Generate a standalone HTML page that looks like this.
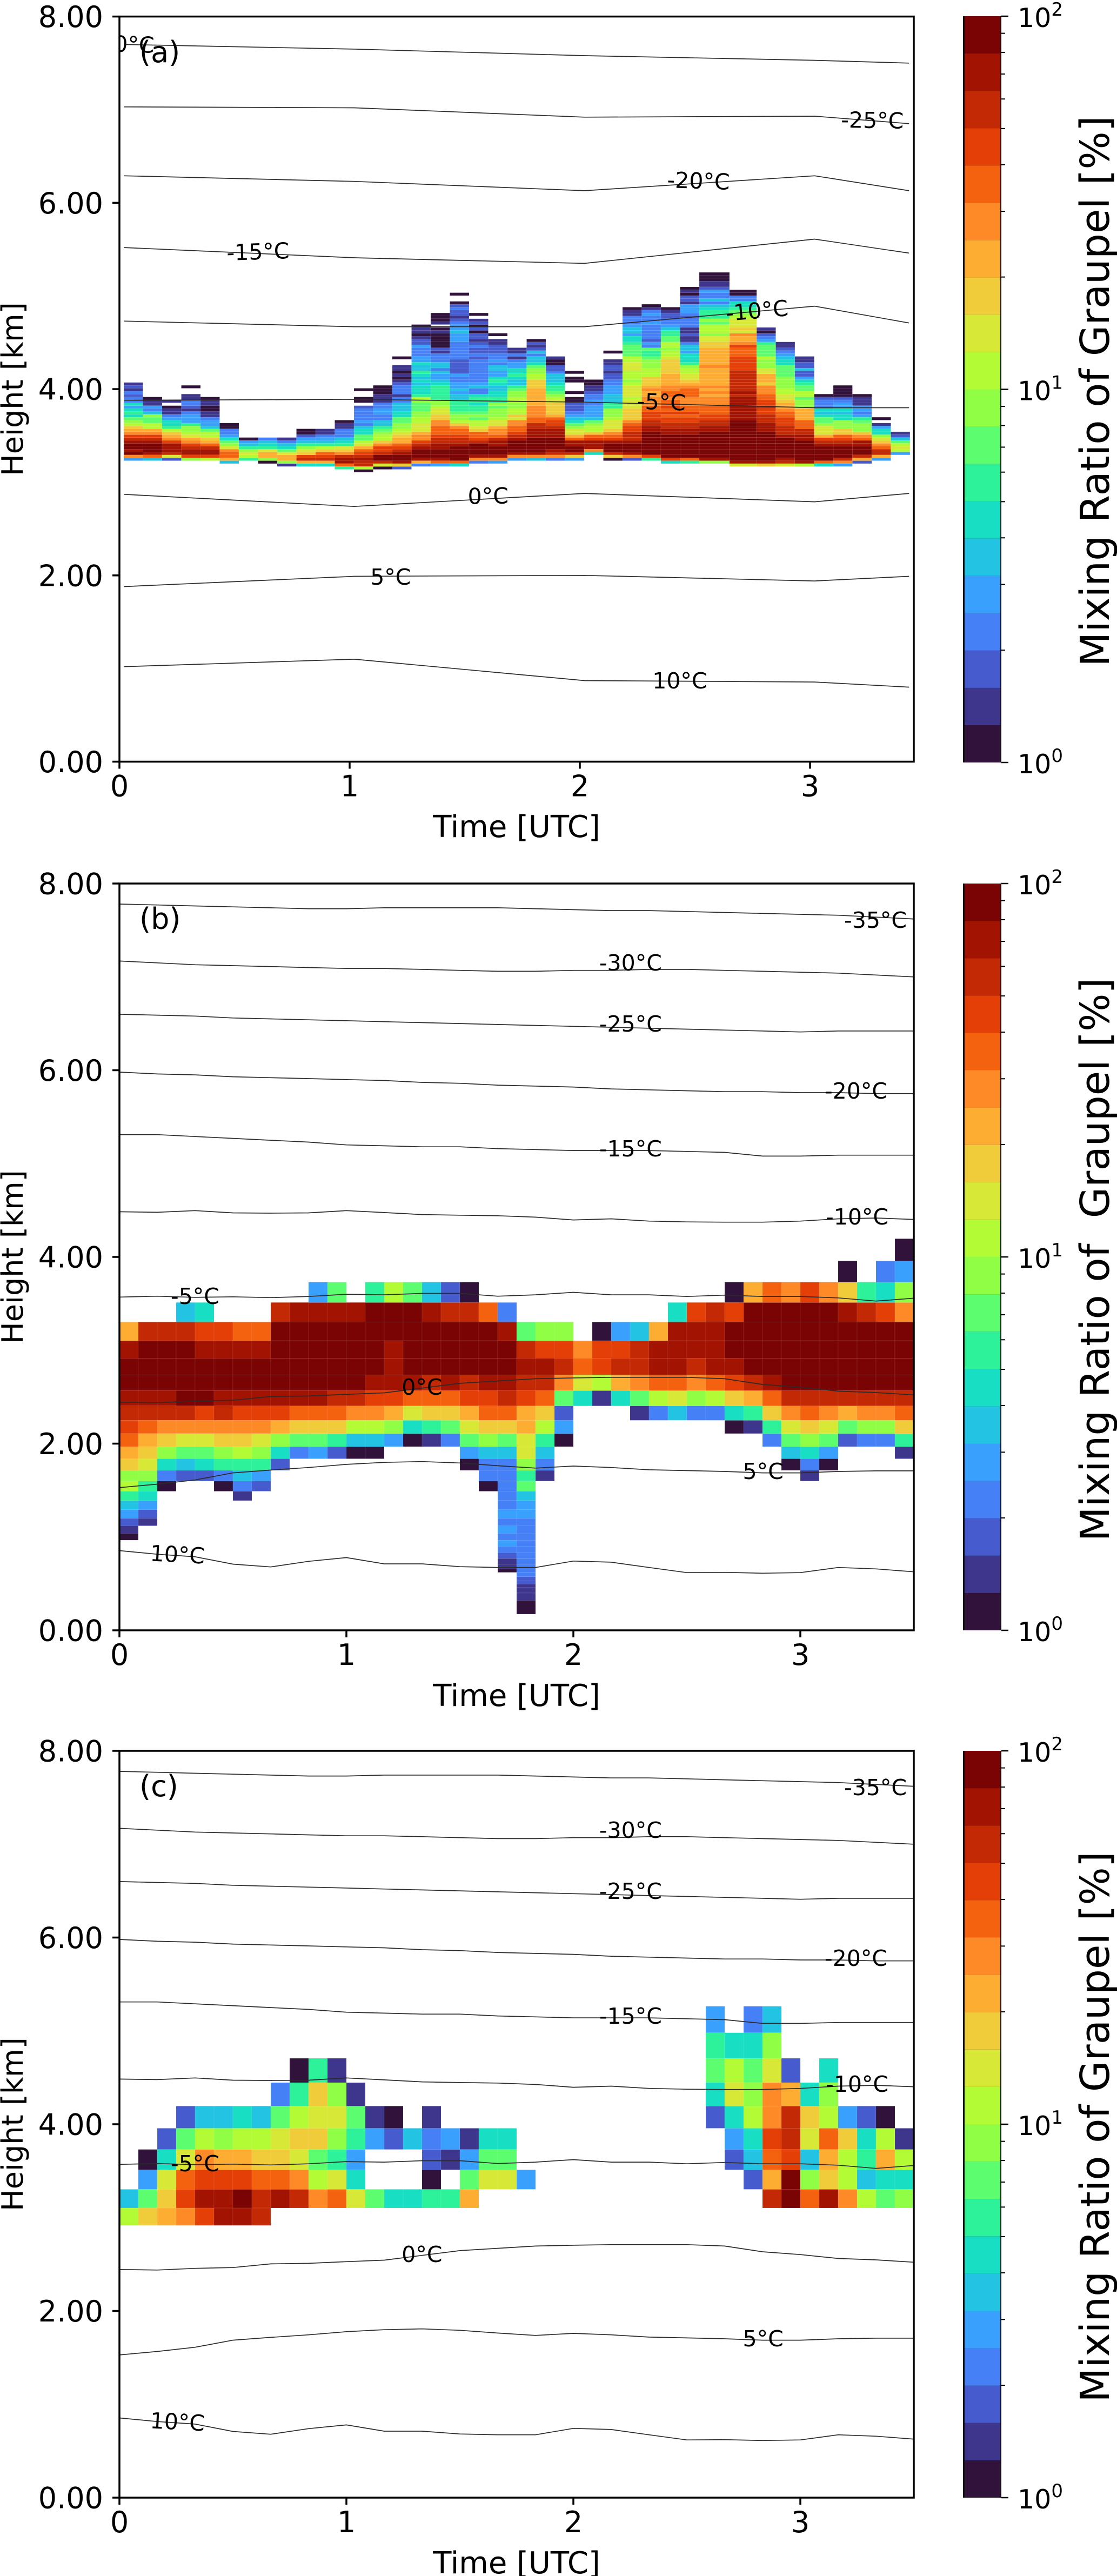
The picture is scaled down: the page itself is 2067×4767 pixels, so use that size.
<!DOCTYPE html>
<html lang="en">
<head>
<meta charset="utf-8">
<title>Mixing Ratio of Graupel</title>
<style>
html,body{margin:0;padding:0;background:#fff;}
svg{display:block;}
text{font-family:"DejaVu Sans","Liberation Sans",sans-serif;fill:#000;}
.tick{font-size:54px;}
.axis-title{font-size:54px;}
.x-title{font-size:56px;}
.panel-letter{font-size:54px;}
.iso-label{font-size:41px;}
.cb-title{font-size:74px;white-space:pre;}
.cb-tick{font-size:49px;}
</style>
</head>
<body>
<svg id="fig" xmlns="http://www.w3.org/2000/svg" width="2067" height="4767" viewBox="0 0 2067 4767">
  <rect x="0" y="0" width="2067" height="4767" fill="#fff"/>
  <defs>
    <clipPath id="clip-a"><rect x="221" y="30.6" width="1470" height="1379"/></clipPath>
    <clipPath id="clip-b"><rect x="221" y="1635" width="1470" height="1382"/></clipPath>
    <clipPath id="clip-c"><rect x="221" y="3240" width="1470" height="1382"/></clipPath>
  </defs>
  <g id="panel-a"></g>
  <g id="panel-b"></g>
  <g id="panel-c"></g>

  <text class="panel-letter" x="258" y="115">(a)</text>
  <text class="panel-letter" x="258" y="1719">(b)</text>
  <text class="panel-letter" x="258" y="3324">(c)</text>

  <text class="axis-title" text-anchor="middle" transform="translate(42 720) rotate(-90)">Height [km]</text>
  <text class="axis-title" text-anchor="middle" transform="translate(42 2326) rotate(-90)">Height [km]</text>
  <text class="axis-title" text-anchor="middle" transform="translate(42 3931) rotate(-90)">Height [km]</text>

  <text class="x-title" text-anchor="middle" x="956" y="1549">Time [UTC]</text>
  <text class="x-title" text-anchor="middle" x="956" y="3157">Time [UTC]</text>
  <text class="x-title" text-anchor="middle" x="956" y="4762">Time [UTC]</text>

  <text class="cb-title" text-anchor="middle" transform="translate(2052 724) rotate(-90)">Mixing Ratio of Graupel [%]</text>
  <text class="cb-title" text-anchor="middle" transform="translate(2052 2331) rotate(-90)">Mixing Ratio of  Graupel [%]</text>
  <text class="cb-title" text-anchor="middle" transform="translate(2052 3936) rotate(-90)">Mixing Ratio of Graupel [%]</text>
</svg>

<script>
// ---- colour levels (10*log10 of mixing ratio in %, 20 bins from 10^0 to 10^2) ----
const levelColors = ["#30123b","#3e358c","#465bce","#4680f6","#3aa0fe","#23c4e3","#18dec3","#2ef29a","#5cfd6e","#90fe44","#b3fb34","#d8e837","#f0cc3a","#fead33","#fe8a27","#f4610f","#e33f07","#c32904","#a21302","#7a0403"];

// ---- shared axis labels ----
const heightTicks = [0,2,4,6,8];
const heightTickLabels = ["0.00","2.00","4.00","6.00","8.00"];
const timeTicks = [0,1,2,3];
const timeTickLabels = ["0","1","2","3"];
const colorbarMajor = [0,1,2];
const colorbarMinorFactors = [2,3,4,5,6,7,8,9];

// ---- panel (a): time cell edges [h], fine height grid, one array per time column ----
const timeEdgesA = [0.0188,0.1021,0.1854,0.2688,0.3521,0.4354,0.5188,0.6021,0.6854,0.7688,0.8521,0.9354,1.0188,1.1021,1.1854,1.2688,1.3521,1.4354,1.5188,1.6021,1.6854,1.7688,1.8521,1.9354,2.0188,2.1021,2.1854,2.2688,2.3521,2.4354,2.5188,2.650,2.768,2.851,2.934,3.018,3.101,3.184,3.268,3.351,3.434];
const rowBaseA = 3.107;
const rowStepA = 0.0311;
const baseRowsA = [4,4,4,4,4,3,4,3,2,2,2,1,0,1,1,2,2,2,3,3,4,4,4,4,6,4,4,4,3,3,3,2,2,2,2,2,2,3,4,6];
const graupelA = [
[4,14,19,18,19,19,18,17,16,14,13,12,10,9,8,6,7,6,4,6,3,3,2,3,1,2,1],
[5,15,18,19,19,19,18,17,16,14,13,10,10,8,8,9,5,3,4,1,1,0],
[2,11,17,18,18,18,16,14,13,12,10,7,6,6,4,3,1,1,0,-1,1],
[9,16,18,18,17,16,14,13,11,10,9,9,7,4,4,4,3,1,2,3,3,1,1,-1,-1,0],
[10,16,18,18,17,15,13,12,10,10,8,5,4,4,3,1,1,0,0,1,1,0],
[5,13,15,15,14,11,9,8,6,4,3,3,0,0],
[7,10,11,9,7,5,4,0],
[0,9,13,13,11,7,6,5,3],
[1,9,13,13,11,8,6,5,3,1],
[6,13,17,16,12,11,9,7,5,4,2,0,0],
[6,13,17,16,15,12,10,7,5,4,3,1,1],
[7,15,18,18,17,14,12,11,7,6,5,3,3,3,1,1,0],
[0,10,17,17,18,17,16,15,13,11,10,8,8,6,6,5,3,4,3,3,3,3,2,-1,0,0,-1,-1,0],
[0,11,17,19,19,17,16,16,14,12,10,10,9,8,7,5,5,3,3,4,4,3,3,1,1,1,0,0,0],
[2,12,18,19,19,18,17,16,15,13,13,12,11,10,9,9,8,8,6,6,5,5,5,3,3,1,3,3,3,2,1,0,1,0,1,1,-1,-1,0],
[3,13,18,19,19,19,18,17,16,14,14,13,11,11,11,10,10,9,9,8,8,8,9,10,7,6,6,6,5,6,5,6,7,5,5,6,4,4,3,3,3,4,2,2,1,0,1,1,0],
[4,15,18,19,19,19,18,18,17,17,16,15,15,15,14,14,12,12,11,11,10,9,9,7,7,7,7,7,6,5,4,4,5,3,5,5,3,3,3,1,2,0,0,0,0,0,1,0,-1,1,0,0,0],
[6,15,19,19,19,19,19,18,17,17,16,15,15,14,12,10,9,9,8,7,7,7,7,5,5,4,5,4,4,3,3,4,2,2,2,2,2,3,3,3,3,3,3,4,4,4,5,4,4,3,2,1,2,2,3,2,0,-1,-1,0],
[3,14,18,19,19,19,19,17,16,15,15,12,11,10,10,8,9,8,7,7,6,7,7,6,3,3,5,4,3,3,3,3,3,3,3,3,2,3,2,2,3,2,1,2,2,0,2,0,2,1,-1,0],
[4,14,18,19,19,19,18,18,17,15,14,14,13,11,11,10,9,9,9,8,9,7,7,6,6,5,5,6,7,6,4,4,5,5,3,4,3,3,2,2,2,1,1,-1,0],
[4,14,18,19,19,19,19,18,17,16,15,15,14,14,11,12,10,10,9,9,10,10,9,9,8,7,5,5,6,7,6,6,4,4,3,1,3,1,1],
[5,14,18,19,19,19,19,19,18,18,18,17,17,15,15,14,14,14,14,13,13,13,13,13,13,12,12,12,10,10,9,9,8,6,5,5,3,5,2,1,2,0],
[3,14,17,18,19,19,19,19,18,18,18,17,16,16,15,13,12,12,12,12,11,10,9,8,7,7,6,5,5,5,3,2,2,0,0,1],
[4,12,17,19,19,18,18,15,13,11,11,9,8,6,5,4,3,2,2,2,0,0,-1,0,-1,-1,-1,0,0,-1,0],
[6,14,18,18,18,16,15,12,10,10,9,8,5,4,4,4,4,3,4,3,3,2,1,1,0,0],
[0,12,17,19,19,19,18,16,15,14,12,11,11,11,10,9,9,9,7,7,5,5,5,4,4,4,3,3,2,2,1,2,2,1,1,-1,-1,0],
[2,14,18,19,19,19,18,17,17,17,16,16,15,14,12,12,12,12,11,11,11,10,11,11,11,11,10,9,10,10,10,11,11,11,10,10,8,8,8,8,7,6,6,4,5,5,4,3,3,3,1,1,0],
[7,16,19,19,19,19,19,19,19,19,18,18,17,17,16,16,16,15,15,14,14,14,13,13,14,13,12,12,12,10,10,10,9,9,9,8,7,7,8,3,4,2,3,3,3,3,3,4,3,3,4,3,1,0],
[6,16,19,19,19,19,19,19,19,19,18,18,17,17,16,16,15,16,15,16,15,15,14,15,15,14,14,13,13,13,13,12,12,12,12,12,11,10,10,9,10,10,8,8,7,7,5,4,3,3,2,2,1,0],
[7,15,19,19,19,19,19,19,19,19,18,18,17,17,16,16,15,16,15,15,14,14,14,15,15,15,14,13,12,11,11,10,10,9,7,6,6,6,4,5,5,3,1,1,2,1,1,3,3,3,2,3,4,4,4,1,2,2,0,1,0],
[9,18,19,19,19,19,19,19,19,19,19,18,18,17,17,16,16,15,15,15,14,14,14,13,14,13,14,13,13,13,13,13,13,14,13,13,13,13,13,13,12,12,11,11,9,10,10,10,8,9,7,7,7,6,5,3,5,3,3,4,2,1,1,0,0,0],
[11,18,19,19,19,19,19,19,19,19,19,19,19,19,19,19,18,18,18,18,18,18,18,18,17,18,17,17,17,17,17,17,17,16,16,16,16,16,15,15,15,16,14,13,13,14,11,12,11,11,11,10,9,8,7,6,6,3,3,0,0],
[12,18,19,19,19,19,19,19,19,19,19,19,18,18,18,17,17,17,16,16,17,16,16,15,15,14,14,14,12,13,13,13,11,11,9,9,9,10,8,8,8,8,7,4,3,2,0,1],
[11,17,18,19,19,19,19,19,19,19,18,17,17,17,16,16,16,15,15,14,13,13,12,11,11,10,10,9,9,9,9,8,8,8,8,6,6,5,4,3,2,1,1],
[10,18,19,19,19,19,19,19,19,18,18,17,17,15,15,15,13,13,13,13,9,9,9,8,10,10,8,8,7,6,4,2,2,5,2,2,1,1],
[6,15,19,19,19,19,19,18,17,16,13,11,11,11,9,8,8,6,5,6,3,3,3,2,0],
[4,14,17,19,19,19,19,18,17,16,15,12,12,9,9,9,6,6,5,6,4,4,3,2,0,0,0,0],
[2,13,17,19,19,19,18,18,15,14,12,9,9,9,8,7,4,3,4,4,1,1,1,0],
[4,13,17,17,15,14,12,11,9,6,6,4,1,-1,0],
[4,10,11,10,8,5,2,1]
];

// ---- panel (a): isotherm heights [km] at sounding times ----
const isoTimesA = [0.02,1.02,2.02,3.02,3.43];
const isoM30A = [7.70,7.65,7.58,7.53,7.50];
const isoM25A = [7.03,7.02,6.92,6.93,6.85];
const isoM20A = [6.29,6.23,6.13,6.29,6.13];
const isoM15A = [5.52,5.41,5.35,5.61,5.46];
const isoM10A = [4.73,4.67,4.67,4.89,4.71];
const isoM5A  = [3.88,3.89,3.86,3.80,3.80];
const iso0A   = [2.87,2.74,2.88,2.79,2.88];
const iso5A   = [1.88,1.99,2.00,1.94,1.99];
const iso10A  = [1.02,1.10,0.87,0.855,0.80];
const isoSeriesA = [isoM30A,isoM25A,isoM20A,isoM15A,isoM10A,isoM5A,iso0A,iso5A,iso10A];
const isoLabelTextA = ["-30°C","-25°C","-20°C","-15°C","-10°C","-5°C","0°C","5°C","10°C"];
const isoLabelTimeA = [0.014,3.27,2.514,0.603,2.772,2.353,1.602,1.178,2.434];
const isoLabelKmA   = [7.708,6.89,6.24,5.48,4.847,3.867,2.857,1.987,0.873];
const isoLabelRotA  = [2,1,2,-2,-5,2,-1,0,0];

// ---- panels (b) and (c): shared model height edges [km] ----
const heightEdges = [0.174,0.318,0.4,0.46,0.497,0.53,0.575,0.621,0.657,0.708,0.769,0.833,0.9,0.966,1.036,1.12,1.199,1.293,1.39,1.49,1.599,1.714,1.838,1.968,2.108,2.25,2.404,2.568,2.737,2.916,3.103,3.303,3.512,3.73,3.957,4.195,4.446,4.706,4.98,5.264];
const timeStepBC = 1/12;

// Each row lists runs: [first time column, value, value, ...]; row index = lower height edge index
const graupelB = [
[[21,0]],[[21,1]],[[21,1]],[[21,1]],[[21,2]],[[21,2]],[[21,3]],
[[20,0,3]],[[20,1,3]],[[20,1,3]],[[20,2,3]],[[20,3,3]],[[20,4,3]],
[[0,0],[20,3,3]],
[[0,1],[20,4,3]],
[[0,2,1],[20,3,3]],
[[0,4,2],[20,4,4]],
[[0,5,4],[20,3,4]],
[[0,7,6],[6,1],[20,3,5]],
[[0,10,7,0],[5,0,3,2],[19,0,3,8]],
[[0,9,9,3,2,2,3,5,4],[19,3,3,7,1],[36,1]],
[[0,12,11,6,5,6,7,7,7,2],[18,0,3,3,9,3],[35,0,3,0]],
[[0,13,12,9,8,8,9,10,9,6,3,4,2,0,0],[18,4,5,5,11,5],[35,5,6,4],[41,1]],
[[0,15,13,12,11,11,12,12,11,9,8,8,7,5,5,4,0,1,3,8,9,8,11,7,0],[34,3,8,9,8,2,3,3,7]],
[[0,16,15,14,14,14,14,14,14,13,12,12,12,10,10,9,6,7,8,11,12,12,13,10,4],[32,0,1,7,11,12,11,8,9,9,12]],
[[0,17,17,17,17,16,17,16,16,16,15,15,15,14,14,13,11,12,12,13,15,15,13,12,2],[27,1,3,5,3,3,6,7,12,14,15,14,13,14,14,15]],
[[0,18,18,18,19,19,18,18,18,18,18,18,17,17,16,16,15,15,15,16,16,17,16,15,8,6,1,6,8,10,11,9,10,12,13,15,17,17,17,17,17,17,17]],
[[0,19,19,19,19,19,19,19,19,19,19,19,19,19,18,18,18,17,18,17,18,18,17,17,14,11,10,13,14,15,15,14,15,16,17,18,19,19,19,19,19,19,19]],
[[0,19,19,19,19,19,19,19,19,19,19,19,19,19,19,18,19,19,19,19,19,19,18,18,17,15,16,17,17,18,18,17,18,18,19,19,19,19,19,19,19,19,19]],
[[0,18,19,19,19,18,18,18,18,19,19,19,19,19,19,18,19,19,19,19,19,19,17,16,16,14,16,16,17,18,18,18,18,19,19,19,19,19,19,19,19,19,19]],
[[0,13,17,17,17,16,16,15,15,19,19,19,19,19,19,19,19,19,19,19,19,18,8,9,9],[25,0,4,5,13,18,18,18,19,19,19,19,19,19,19,19,19,19]],
[[3,5,6],[8,17,18,18,18,18,19,19,19,18,17,17,15,3],[29,6,16,17,16,19,19,19,19,19,18,17,16,14]],
[[10,4,8],[13,7,10,8,5,2,0],[32,0,13,15,14,16,14,12,7,6,9]],
[[38,0],[40,3,4]],
[[41,0]]
];
const graupelC = [
[],[],[],[],[],[],[],[],[],[],[],[],[],[],[],[],[],[],[],[],[],[],[],[],[],[],[],[],[],
[[0,10,12,13,14,16,18,18,17]],
[[0,5,8,12,16,18,18,19,17,18,17,14,15,11,8,6,6,7,7,13],[34,17,19,15,18,14,10,8,9]],
[[1,4,11,15,16,16,16,15,15,14,10,11,6],[16,0],[18,8,11,11,4],[33,2,13,19,9,12,10,5,6,6]],
[[1,0,6,11,14,13,13,12,12,11,8,7,4],[16,2,1,4,8,8],[32,2,5,15,16,5,13,10,7,13,10]],
[[2,2,8,10,9,10,10,11,12,12,9,7,4,2,5,3,4,1,6,6],[32,4,6,16,17,11,15,12,6,10,1]],
[[3,2,5,5,6,5,8,10,11,11,8,1,0],[16,1],[31,2,6,10,14,17,12,10,4,2,0]],
[[8,3,7,12,9,1],[31,6,11,9,14,13,6,9]],
[[9,0,7,1],[31,8,10,8,11,2],[37,6]],
[[31,7,6,6,9]],
[[31,4],[33,3,5]]
];

// ---- panels (b) and (c): isotherm heights [km], every 10 minutes (22 nodes) ----
const isoStepBC = 1/6;
const isoM35BC = [7.78,7.77,7.76,7.75,7.74,7.73,7.73,7.74,7.74,7.74,7.74,7.73,7.72,7.71,7.71,7.70,7.69,7.68,7.67,7.66,7.64,7.62];
const isoM30BC = [7.17,7.15,7.13,7.12,7.11,7.10,7.09,7.09,7.08,7.07,7.06,7.06,7.07,7.07,7.08,7.08,7.07,7.06,7.05,7.04,7.02,7.00];
const isoM25BC = [6.60,6.59,6.58,6.56,6.55,6.54,6.53,6.52,6.51,6.50,6.49,6.48,6.47,6.46,6.45,6.44,6.43,6.42,6.41,6.42,6.42,6.42];
const isoM20BC = [5.98,5.96,5.95,5.93,5.92,5.91,5.90,5.89,5.87,5.86,5.84,5.83,5.82,5.80,5.79,5.78,5.77,5.77,5.76,5.76,5.75,5.75];
const isoM15BC = [5.31,5.31,5.29,5.27,5.25,5.23,5.20,5.19,5.18,5.18,5.16,5.15,5.14,5.14,5.14,5.13,5.12,5.08,5.08,5.09,5.09,5.09];
const isoM10BC = [4.484,4.478,4.496,4.472,4.469,4.472,4.496,4.475,4.454,4.447,4.441,4.426,4.396,4.408,4.384,4.375,4.372,4.372,4.384,4.408,4.417,4.402];
const isoM5BC  = [3.570,3.579,3.567,3.573,3.564,3.576,3.600,3.594,3.609,3.609,3.579,3.594,3.621,3.594,3.594,3.576,3.591,3.576,3.576,3.561,3.527,3.558];
const iso0BC   = [2.444,2.438,2.456,2.465,2.504,2.510,2.528,2.544,2.595,2.646,2.671,2.695,2.704,2.710,2.710,2.710,2.695,2.634,2.604,2.562,2.547,2.522];
const iso5BC   = [1.529,1.566,1.611,1.687,1.717,1.744,1.778,1.799,1.808,1.793,1.763,1.738,1.760,1.744,1.720,1.711,1.702,1.687,1.687,1.702,1.708,1.708];
const iso10BC  = [0.854,0.815,0.788,0.709,0.679,0.739,0.779,0.712,0.712,0.682,0.673,0.673,0.742,0.730,0.673,0.618,0.621,0.612,0.618,0.673,0.658,0.627];
const isoSeriesBC = [isoM35BC,isoM30BC,isoM25BC,isoM20BC,isoM15BC,isoM10BC,isoM5BC,iso0BC,iso5BC,iso10BC];
const isoLabelTextBC = ["-35°C","-30°C","-25°C","-20°C","-15°C","-10°C","-5°C","0°C","5°C","10°C"];
const isoLabelTimeBC = [3.331,2.252,2.252,3.245,2.252,3.25,0.333,1.333,2.836,0.254];
const isoLabelKmBC   = [7.612,7.155,6.50,5.783,5.164,4.434,3.583,2.611,1.708,0.816];
const isoLabelRotBC  = [0,0,0,0,0,0,0,0,0,3];

const SVGNS = "http://www.w3.org/2000/svg";
function make(tag, parent){
  const el = document.createElementNS(SVGNS, tag);
  parent.appendChild(el);
  return el;
}
function drawFrame(g, p){
  // y ticks
  heightTicks.forEach(function(h, i){
    const tick = make("line", g);
    
    
    tick.setAttribute("x1", p.left - 13); tick.setAttribute("x2", p.left);
    tick.setAttribute("y1", p.y(h)); tick.setAttribute("y2", p.y(h));
    tick.setAttribute("stroke", "#000"); tick.setAttribute("stroke-width", "3.5");
    const lab = make("text", g);
    
    
    lab.setAttribute("class", "tick");
    lab.setAttribute("x", 191); lab.setAttribute("y", p.y(h) + 19.5);
    lab.setAttribute("text-anchor", "end");
    lab.textContent = heightTickLabels[i];
  });
  // x ticks
  timeTicks.forEach(function(t, i){
    const tick = make("line", g);
    
    
    tick.setAttribute("x1", p.x(t)); tick.setAttribute("x2", p.x(t));
    tick.setAttribute("y1", p.bottom); tick.setAttribute("y2", p.bottom + 13);
    tick.setAttribute("stroke", "#000"); tick.setAttribute("stroke-width", "3.5");
    const lab = make("text", g);
    
    
    lab.setAttribute("class", "tick");
    lab.setAttribute("x", p.x(t)); lab.setAttribute("y", p.bottom + 64);
    lab.setAttribute("text-anchor", "middle");
    lab.textContent = timeTickLabels[i];
  });
  const frame = make("rect", g);
  
  
  frame.setAttribute("x", p.left); frame.setAttribute("y", p.top);
  frame.setAttribute("width", p.right - p.left); frame.setAttribute("height", p.bottom - p.top);
  frame.setAttribute("fill", "none"); frame.setAttribute("stroke", "#000"); frame.setAttribute("stroke-width", "3.5");
}
function drawIso(g, p, times, series, labelText, labelTime, labelKm, labelRot){
  const clip = make("g", g);
  
  
  clip.setAttribute("clip-path", "url(#clip-" + p.id + ")");
  series.forEach(function(vals){
    const line = make("polyline", clip);
    
    
    line.setAttribute("points", vals.map(function(v, i){ return p.x(times[i]).toFixed(1) + "," + p.y(v).toFixed(1); }).join(" "));
    line.setAttribute("fill", "none");
    line.setAttribute("stroke", "#2b2b2b");
    line.setAttribute("stroke-width", "1.7");
  });
  labelText.forEach(function(txt, i){
    const lab = make("text", clip);
    
    
    lab.setAttribute("class", "iso-label");
    lab.setAttribute("text-anchor", "middle");
    lab.setAttribute("transform", "translate(" + p.x(labelTime[i]).toFixed(1) + " " + (p.y(labelKm[i]) + 15).toFixed(1) + ") rotate(" + labelRot[i] + ")");
    lab.textContent = txt;
  });
}
function drawColorbar(g, top, bottom){
  const cbLeft = 1782, cbRight = 1853, cellLeft = 1785, cellRight = 1851;
  const toY = function(db){ return bottom - (db / 20) * (bottom - top); };
  const back = make("rect", g);
  
  
  back.setAttribute("x", cbLeft); back.setAttribute("y", top);
  back.setAttribute("width", cbRight - cbLeft); back.setAttribute("height", bottom - top);
  back.setAttribute("fill", "#111");
  levelColors.forEach(function(col, i){
    const cell = make("rect", g);
    
    
    cell.setAttribute("x", cellLeft); cell.setAttribute("width", cellRight - cellLeft);
    cell.setAttribute("y", toY(i + 1)); cell.setAttribute("height", toY(i) - toY(i + 1));
    cell.setAttribute("fill", col);
  });
  colorbarMajor.forEach(function(exp){
    const tick = make("line", g);
    
    
    tick.setAttribute("x1", cbRight); tick.setAttribute("x2", 1866);
    tick.setAttribute("y1", toY(exp * 10)); tick.setAttribute("y2", toY(exp * 10));
    tick.setAttribute("stroke", "#000"); tick.setAttribute("stroke-width", "2.5");
    const lab = make("text", g);
    
    
    lab.setAttribute("class", "cb-tick");
    lab.setAttribute("x", 1883); lab.setAttribute("y", toY(exp * 10) + 20);
    lab.textContent = "10";
    const sup = make("tspan", lab);
    
    
    sup.setAttribute("dy", "-21");
    sup.setAttribute("font-size", "34");
    sup.textContent = String(exp);
    if (exp < 2) {
      colorbarMinorFactors.forEach(function(f){
        const minor = make("line", g);
        
        
        const my = toY((exp + Math.log10(f)) * 10);
        minor.setAttribute("x1", cbRight); minor.setAttribute("x2", 1860);
        minor.setAttribute("y1", my); minor.setAttribute("y2", my);
        minor.setAttribute("stroke", "#000"); minor.setAttribute("stroke-width", "2");
      });
    }
  });
}
function cellRect(g, x0, x1, y0, y1, db){
  const level = Math.max(0, Math.min(19, Math.floor(db)));
  const cell = make("rect", g);
  
  
  cell.setAttribute("x", x0.toFixed(2));
  cell.setAttribute("y", y1.toFixed(2));
  cell.setAttribute("width", (x1 - x0).toFixed(2));
  cell.setAttribute("height", (y0 - y1).toFixed(2));
  cell.setAttribute("fill", levelColors[level]);
  cell.setAttribute("stroke", "#ffffff");
  cell.setAttribute("stroke-opacity", "0.12");
  cell.setAttribute("stroke-width", "0.7");
}
function panelSetup(id, top, bottom, xScale){
  return {
    id: id, top: top, bottom: bottom, left: 221, right: 1691,
    x: function(t){ return 221 + t * xScale; },
    y: function(km){ return bottom - km * (bottom - top) / 8; }
  };
}
function drawRuns(g, p, rows){
  const clip = make("g", g);
  
  
  clip.setAttribute("clip-path", "url(#clip-" + p.id + ")");
  rows.forEach(function(row, r){
    row.forEach(function(run){
      for (let k = 1; k < run.length; k++) {
        const col = run[0] + k - 1;
        if (run[k] < 0) continue;
        cellRect(clip, p.x(col * timeStepBC), p.x((col + 1) * timeStepBC), p.y(heightEdges[r]), p.y(heightEdges[r + 1]), run[k]);
      }
    });
  });
}

// panel (a)
const pA = panelSetup("a", 30.6, 1409.5, 426);
const gA = document.getElementById("panel-a");
const heatA = make("g", gA);


graupelA.forEach(function(column, c){
  column.forEach(function(db, k){
    if (db < 0) return;
    const r = baseRowsA[c] + k;
    cellRect(heatA, pA.x(timeEdgesA[c]), pA.x(timeEdgesA[c + 1]), pA.y(rowBaseA + r * rowStepA), pA.y(rowBaseA + (r + 1) * rowStepA), db);
  });
});
drawIso(gA, pA, isoTimesA, isoSeriesA, isoLabelTextA, isoLabelTimeA, isoLabelKmA, isoLabelRotA);
drawFrame(gA, pA);
drawColorbar(gA, 30, 1411);

// panels (b), (c)
const isoTimesBC = isoM35BC.map(function(_, i){ return i * isoStepBC; });
const pB = panelSetup("b", 1635, 3017, 420);
const gB = document.getElementById("panel-b");
drawRuns(gB, pB, graupelB);
drawIso(gB, pB, isoTimesBC, isoSeriesBC, isoLabelTextBC, isoLabelTimeBC, isoLabelKmBC, isoLabelRotBC);
drawFrame(gB, pB);
drawColorbar(gB, 1635, 3017);

const pC = panelSetup("c", 3240, 4622, 420);
const gC = document.getElementById("panel-c");
drawRuns(gC, pC, graupelC);
drawIso(gC, pC, isoTimesBC, isoSeriesBC, isoLabelTextBC, isoLabelTimeBC, isoLabelKmBC, isoLabelRotBC);
drawFrame(gC, pC);
drawColorbar(gC, 3240, 4622);
</script>
</body>
</html>
